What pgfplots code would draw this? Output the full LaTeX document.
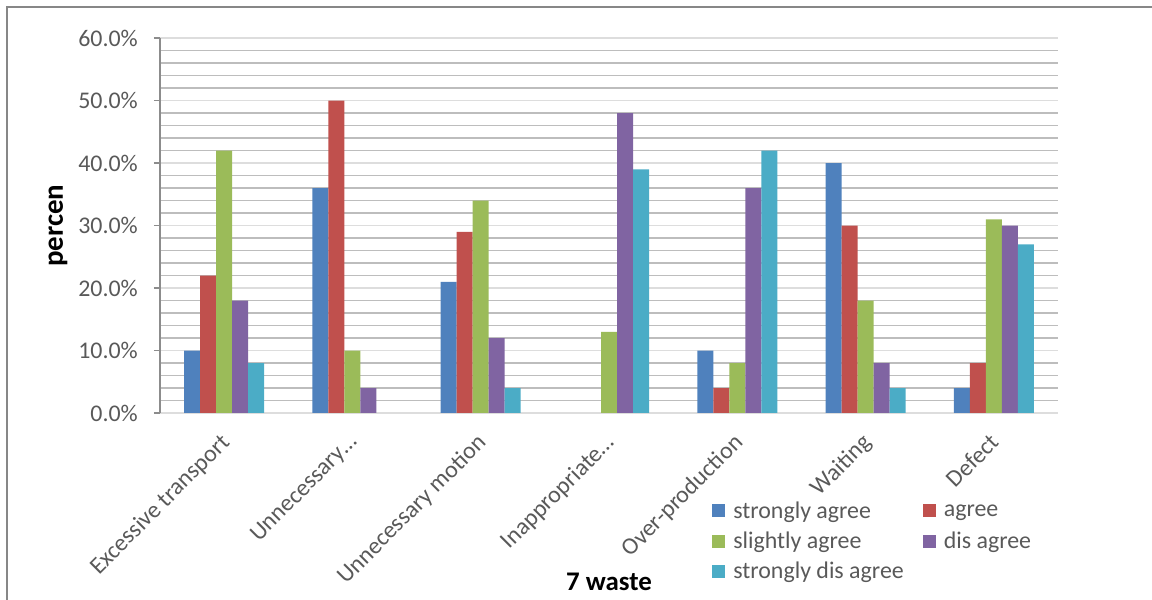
\documentclass[border=0pt]{standalone}
\usepackage{pgfplots}
\pgfplotsset{compat=1.18}
\usepackage{fontspec}
\setmainfont{Carlito}

\definecolor{cstrong}{HTML}{4F81BD}
\definecolor{cagree}{HTML}{C0504D}
\definecolor{cslight}{HTML}{9BBB59}
\definecolor{cdis}{HTML}{8064A2}
\definecolor{cstrongdis}{HTML}{4BACC6}
\definecolor{labgray}{HTML}{595959}
\definecolor{majgrid}{HTML}{DDDDDD}
\definecolor{mingrid}{HTML}{BDBDBD}
\definecolor{axisgray}{HTML}{8C8C8C}
\definecolor{framegray}{HTML}{878787}

\pgfplotsset{
  sqbar/.style={fill=#1, draw=none,
    legend image code/.code={\fill[#1] (0bp,-6.5bp) rectangle (13bp,6.5bp);}},
}

\begin{document}
\begin{tikzpicture}
\useasboundingbox (0bp,0bp) rectangle (1152bp,600bp);
% outer chart frame
\draw[framegray, line width=1.3bp] (7bp,-5bp) -- (7bp,593bp) -- (1160bp,593bp);
\begin{axis}[
  at={(160bp,187bp)}, anchor=south west,
  scale only axis, width=898bp, height=375bp,
  ybar=0pt, bar width=16bp,
  xmin=-0.5, xmax=6.5, ymin=0, ymax=60,
  xtick={0,1,2,3,4,5,6},
  xticklabels={Excessive transport, Unnecessary\ldots, Unnecessary motion,
    Inappropriate\ldots, Over-production, Waiting, Defect},
  ytick={0,10,20,30,40,50,60},
  yticklabels={0.0\%,10.0\%,20.0\%,30.0\%,40.0\%,50.0\%,60.0\%},
  minor y tick num=4,
  ymajorgrids, yminorgrids,
  major grid style={color=majgrid, line width=1.2bp},
  minor grid style={color=mingrid, line width=1.2bp},
  axis x line*=bottom, axis y line*=left,
  x axis line style={color=majgrid, line width=1.2bp},
  y axis line style={color=axisgray, line width=1.3bp},
  tick align=outside,
  major tick length=6bp, minor tick length=0pt,
  xtick style={draw=none},
  ytick style={color=axisgray, line width=1.3bp},
  yticklabel style={font=\fontsize{24}{28}\selectfont, color=labgray, inner sep=0pt, anchor=east, xshift=-16bp},
  xticklabel style={font=\fontsize{24}{28}\selectfont, color=labgray, inner sep=0pt,
    xshift=-5bp, yshift=-13bp, rotate=45, anchor=north east},
  xlabel={7 waste}, ylabel={percen},
  xlabel style={font=\fontsize{27}{30}\selectfont\bfseries, at={(axis description cs:0.5,-0.451)}, anchor=center},
  ylabel style={font=\fontsize{29}{32}\selectfont\bfseries, at={(axis description cs:-0.1136,0.5)}, anchor=center, rotate=0},
  legend columns=2,
  legend cell align=left,
  legend style={at={(axis description cs:0.6115,-0.226)}, anchor=north west,
    draw=none, fill=none, font=\fontsize{24}{28}\selectfont, text=labgray,
    row sep=8bp,
    /tikz/every odd column/.append style={column sep=6bp},
    /tikz/every even column/.append style={column sep=17bp}},
]
% zero answers are left out, so no empty bar is drawn for them
\addplot[sqbar=cstrong] coordinates {(0,10) (1,36) (2,21) (4,10) (5,40) (6,4)};
\addlegendentry{strongly agree}
\addplot[sqbar=cagree] coordinates {(0,22) (1,50) (2,29) (4,4) (5,30) (6,8)};
\addlegendentry{agree}
\addplot[sqbar=cslight] coordinates {(0,42) (1,10) (2,34) (3,13) (4,8) (5,18) (6,31)};
\addlegendentry{slightly agree}
\addplot[sqbar=cdis] coordinates {(0,18) (1,4) (2,12) (3,48) (4,36) (5,8) (6,30)};
\addlegendentry{dis agree}
\addplot[sqbar=cstrongdis] coordinates {(0,8) (2,4) (3,39) (4,42) (5,4) (6,27)};
\addlegendentry{strongly dis agree}
\end{axis}
\end{tikzpicture}
\end{document}
